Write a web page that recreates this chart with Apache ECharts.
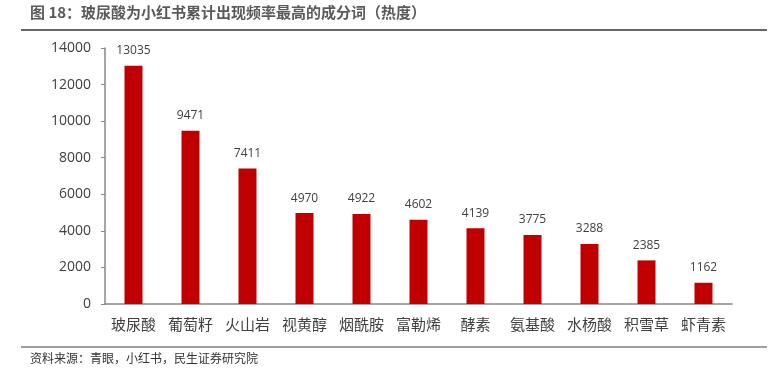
<!DOCTYPE html>
<html>
<head>
<meta charset="utf-8">
<script src="https://cdn.jsdelivr.net/npm/echarts@6/dist/echarts.min.js"></script>
<style>
  html, body { margin: 0; padding: 0; background: #fff; }
  #chart { width: 778px; height: 378px; }
</style>
</head>
<body>
<div id="chart"></div>
<script>
const categories = ["玻尿酸", "葡萄籽", "火山岩", "视黄醇", "烟酰胺", "富勒烯", "酵素", "氨基酸", "水杨酸", "积雪草", "虾青素"];
const heatValues = [13035, 9471, 7411, 4970, 4922, 4602, 4139, 3775, 3288, 2385, 1162];
const yTicks = { min: 0, max: 14000, interval: 2000 };

const titleText = "图 18：玻尿酸为小红书累计出现频率最高的成分词（热度）";
const sourceText = "资料来源：青眼，小红书，民生证券研究院";

const font = "'Noto Sans CJK SC', 'Noto Sans', sans-serif";
const numFont = "'Open Sans', 'Noto Sans', sans-serif";

const myChart = echarts.init(document.getElementById("chart"));
const option = {
    backgroundColor: "#fff",
    animation: false,
    textStyle: { fontFamily: font },
    grid: {
        left: 105,
        right: 46,
        top: 48,
        bottom: 74,
        containLabel: false
    },
    graphic: [
        {
            type: "text",
            left: 30,
            top: 5,
            style: {
                text: titleText,
                font: "bold 15px " + font,
                fill: "#5a5a5a"
            }
        },
        {
            type: "line",
            shape: { x1: 21, y1: 30, x2: 767, y2: 30 },
            style: { stroke: "#666", lineWidth: 2 }
        },
        {
            type: "line",
            shape: { x1: 21, y1: 347, x2: 767, y2: 347 },
            style: { stroke: "#7f7f7f", lineWidth: 1.5 }
        },
        {
            type: "text",
            left: 30,
            top: 352,
            style: {
                text: sourceText,
                font: "12px " + font,
                fill: "#333"
            }
        }
    ],
    xAxis: {
        type: "category",
        data: categories,
        axisLine: { lineStyle: { color: "#888", width: 1.5 } },
        axisTick: { show: false },
        axisLabel: {
            interval: 0,
            color: "#404040",
            fontSize: 15,
            margin: 13
        }
    },
    yAxis: {
        type: "value",
        min: yTicks.min,
        max: yTicks.max,
        interval: yTicks.interval,
        splitLine: { show: false },
        axisLine: { show: true, lineStyle: { color: "#888", width: 1.5 } },
        axisTick: { show: true, length: 4, lineStyle: { color: "#888" } },
        axisLabel: {
            color: "#404040",
            fontSize: 14,
            fontFamily: numFont,
            margin: 14,
            formatter: (v) => String(v)
        }
    },
    series: [
        {
            name: "热度",
            type: "bar",
            data: heatValues,
            barWidth: 18,
            itemStyle: { color: "#c00000" },
            label: {
                show: true,
                position: "top",
                distance: 9,
                color: "#404040",
                fontSize: 12,
                fontFamily: numFont
            }
        }
    ]
};
myChart.setOption(option);
</script>
</body>
</html>
